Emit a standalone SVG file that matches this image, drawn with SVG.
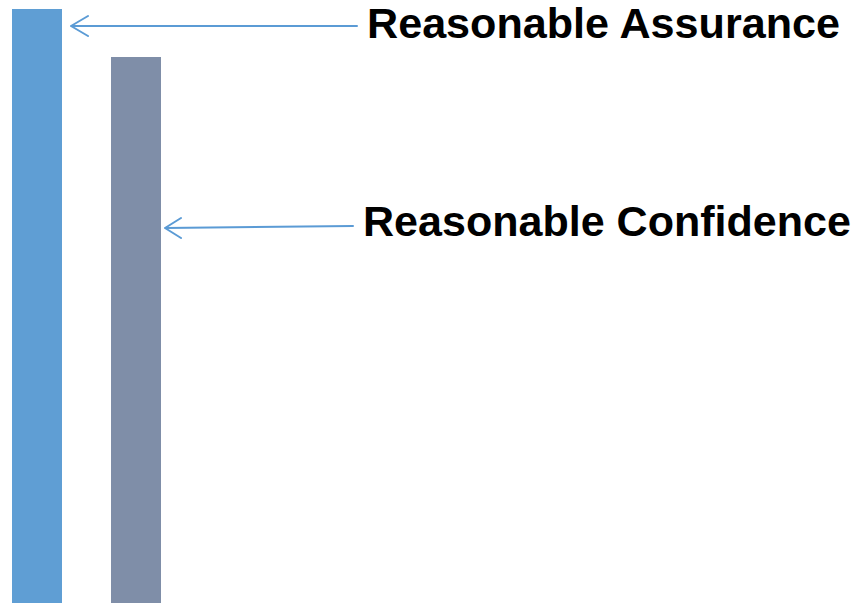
<svg xmlns="http://www.w3.org/2000/svg" width="857" height="603" viewBox="0 0 857 603">
<style>
.lbl{font-family:"Liberation Sans",Arial,sans-serif;font-weight:bold;font-size:43px;fill:#000}
.conn{stroke:#5B9BD5;stroke-width:2;fill:none;stroke-linecap:round;stroke-linejoin:round}
</style>
<rect width="857" height="603" fill="#fff"/>
<g id="bar-assurance"><rect x="12" y="9" width="50" height="594" fill="#5F9ED4"/></g>
<g id="bar-confidence"><rect x="111" y="57" width="50" height="546" fill="#7F8EA8"/></g>
<g id="label-assurance"><text class="lbl" x="367" y="38" textLength="473" lengthAdjust="spacingAndGlyphs">Reasonable Assurance</text></g>
<g id="label-confidence"><text class="lbl" x="363" y="236" textLength="488" lengthAdjust="spacingAndGlyphs">Reasonable Confidence</text></g>
<g id="connectors">
<path class="conn" d="M357 26 L71 26 M88 16 L71 26 L88 36"/>
<path class="conn" d="M353 226 L165 228 M181 218 L165 228 L181 238"/>
</g>
</svg>
